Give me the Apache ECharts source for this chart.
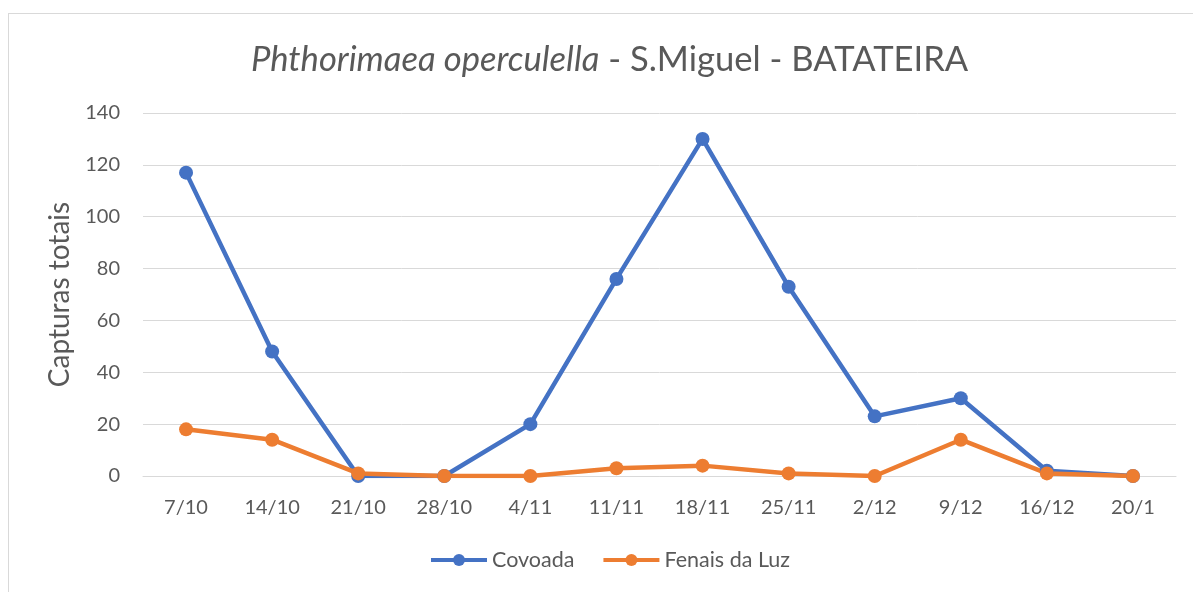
<!DOCTYPE html>
<html>
<head>
<meta charset="utf-8">
<script src="https://cdn.jsdelivr.net/npm/echarts@6/dist/echarts.min.js"></script>
<style>
  html, body { margin: 0; padding: 0; background: #fff; }
  .frame {
    position: absolute; left: 8px; top: 13px; width: 1190px; height: 590px;
    border: 1px solid #d9d9d9; box-sizing: border-box;
  }
  .echarts { position: absolute; left: 0; top: 0; width: 1193px; height: 592px; }
</style>
</head>
<body>
<div class="frame"></div>
<div class="echarts" id="chart"></div>
<script>
// datas de recolha (eixo x)
const categories = ["7/10", "14/10", "21/10", "28/10", "4/11", "11/11", "18/11", "25/11", "2/12", "9/12", "16/12", "20/1"];
// capturas por local
const covoada = [117, 48, 0, 0, 20, 76, 130, 73, 23, 30, 2, 0];
const fenaisDaLuz = [18, 14, 1, 0, 0, 3, 4, 1, 0, 14, 1, 0];
const yTicks = [0, 20, 40, 60, 80, 100, 120, 140];

const font = "Lato";
const grey = "#595959";

let myChart = echarts.init(document.getElementById("chart"));

myChart.setOption({
  textStyle: { fontFamily: font },
  title: {
    text: "{i|Phthorimaea operculella}{n| - S.Miguel - BATATEIRA}",
    left: 246,
    top: 37,
    textStyle: {
      fontWeight: "normal",
      rich: {
        i: { fontFamily: font, fontSize: 34.6, fontStyle: "italic", fontWeight: "normal", color: grey },
        n: { fontFamily: font, fontSize: 34.6, fontWeight: "normal", color: grey },
      },
    },
  },
  legend: {
    bottom: 16,
    left: 424,
    itemWidth: 56,
    itemHeight: 15,
    itemGap: 27,
    lineStyle: { width: 4 },
    textStyle: { fontFamily: font, fontSize: 21.5, color: grey },
    data: ["Covoada", "Fenais da Luz"],
  },
  grid: {
    left: 143,
    right: 17,
    top: 113,
    bottom: 116,
  },
  xAxis: {
    type: "category",
    data: categories,
    boundaryGap: true,
    axisLine: { lineStyle: { color: "#d9d9d9", width: 1 } },
    axisTick: { show: false },
    axisLabel: { fontFamily: font, fontSize: 20, color: grey, margin: 22 },
  },
  yAxis: {
    type: "value",
    min: yTicks[0],
    max: yTicks[yTicks.length - 1],
    interval: 20,
    name: "Capturas totais",
    nameLocation: "middle",
    nameGap: 68,
    nameTextStyle: { fontFamily: font, fontSize: 28, color: grey },
    axisLine: { show: false },
    axisTick: { show: false },
    axisLabel: { fontFamily: font, fontSize: 20, color: grey, margin: 23 },
    splitLine: { lineStyle: { color: "#d9d9d9", width: 1 } },
  },
  series: [
    {
      name: "Covoada",
      type: "line",
      data: covoada,
      symbol: "circle",
      symbolSize: 14,
      color: "#4472C4",
      lineStyle: { width: 4.5, color: "#4472C4" },
      itemStyle: { color: "#4472C4" },
    },
    {
      name: "Fenais da Luz",
      type: "line",
      data: fenaisDaLuz,
      symbol: "circle",
      symbolSize: 14,
      color: "#ED7D31",
      lineStyle: { width: 4.5, color: "#ED7D31" },
      itemStyle: { color: "#ED7D31" },
    },
  ],
});
</script>
</body>
</html>
